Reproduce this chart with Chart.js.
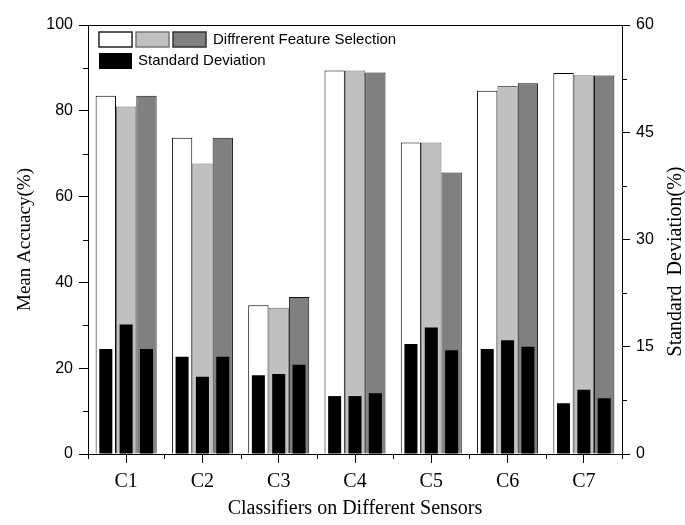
<!DOCTYPE html>
<html>
<head>
<meta charset="utf-8">
<script src="https://cdn.jsdelivr.net/npm/chart.js"></script>
<style>
  body { margin: 0; background: #fff; }
  #wrap { width: 685px; height: 525px; }
</style>
</head>
<body>
<div id="wrap"><canvas id="chart"></canvas></div>
<script>
// Values
const classifiers = ['C1', 'C2', 'C3', 'C4', 'C5', 'C6', 'C7'];
const meanSel1 = [83.5, 73.7, 34.7, 89.4, 72.6, 84.7, 88.8];
const meanSel2 = [81.0, 67.7, 34.1, 89.4, 72.6, 85.8, 88.3];
const meanSel3 = [83.5, 73.7, 36.6, 88.9, 65.6, 86.4, 88.2];
const stdSel1 = [14.7, 13.6, 11.0, 8.1, 15.4, 14.7, 7.1];
const stdSel2 = [18.1, 10.8, 11.2, 8.1, 17.7, 15.9, 9.0];
const stdSel3 = [14.7, 13.6, 12.5, 8.5, 14.5, 15.0, 7.8];
const meanMinor = [10, 30, 50, 70, 90];
const stdMinor = [7.5, 22.5, 37.5, 52.5];

const serif = "'Liberation Serif', 'Times New Roman', serif";
const sans = "'Liberation Sans', Arial, sans-serif";

// mean bar and its std bar share one slot (same stack name), on different y axes
function meanSet(values, slot, fill, border) {
    return {
        data: values, backgroundColor: fill, borderColor: border, borderWidth: 1,
        yAxisID: 'y', stack: slot, order: 2,
        categoryPercentage: 0.8, barPercentage: 1.0
    };
}
function stdSet(values, slot) {
    return {
        data: values, backgroundColor: '#000', borderWidth: 0,
        yAxisID: 'y2', stack: slot, order: 1,
        categoryPercentage: 0.8, barPercentage: 0.64
    };
}

// frame top line, minor ticks, legend and right-hand title
const extras = {
    id: 'extras',
    afterDraw(chart) {
        const { ctx, chartArea: a, scales } = chart;
        const px = v => Math.round(v) + 0.5;
        ctx.save();
        ctx.strokeStyle = '#000';
        ctx.lineWidth = 1;
        ctx.beginPath();
        ctx.moveTo(a.left, px(a.top)); ctx.lineTo(a.right, px(a.top));
        meanMinor.forEach(v => {
            const y = px(scales.y.getPixelForValue(v));
            ctx.moveTo(a.left - 5, y); ctx.lineTo(a.left, y);
        });
        stdMinor.forEach(v => {
            const y = px(scales.y2.getPixelForValue(v));
            ctx.moveTo(a.right, y); ctx.lineTo(a.right + 5, y);
        });
        const step = (a.right - a.left) / classifiers.length;
        for (let i = 0; i <= classifiers.length; i++) {
            const x = px(a.left + i * step);
            ctx.moveTo(x, a.bottom); ctx.lineTo(x, a.bottom + 5);
        }
        ctx.stroke();

        // legend
        const lx = a.left + 11, ly = a.top + 7;
        const boxes = [['#fff', '#222'], ['#c0c0c0', '#777'], ['#808080', '#333']];
        ctx.lineWidth = 1.5;
        boxes.forEach((b, i) => {
            const x = lx + i * 37;
            ctx.fillStyle = b[0]; ctx.fillRect(x, ly, 33, 15);
            ctx.strokeStyle = b[1]; ctx.strokeRect(x, ly, 33, 15);
        });
        ctx.fillStyle = '#000';
        ctx.fillRect(lx, ly + 21, 33, 16);
        ctx.font = '15px ' + sans;
        ctx.textBaseline = 'middle';
        ctx.textAlign = 'left';
        ctx.fillText('Diffrerent Feature Selection', lx + 114, ly + 8);
        ctx.fillText('Standard Deviation', lx + 39, ly + 29);

        // right axis title reads bottom to top
        ctx.translate(a.right + 54, (a.top + a.bottom) / 2 + 22);
        ctx.rotate(-Math.PI / 2);
        ctx.font = '20px ' + serif;
        ctx.textAlign = 'center';
        ctx.fillText('Standard  Deviation(%)', 0, 0);
        ctx.restore();
    }
};

const config = {
    type: 'bar',
    data: {
        labels: classifiers,
        datasets: [
            meanSet(meanSel1, 's1', '#ffffff', '#000'),
            meanSet(meanSel2, 's2', '#c0c0c0', '#6a6a6a'),
            meanSet(meanSel3, 's3', '#808080', '#111'),
            stdSet(stdSel1, 's1'),
            stdSet(stdSel2, 's2'),
            stdSet(stdSel3, 's3')
        ]
    },
    options: {
        responsive: true,
        maintainAspectRatio: false,
        animation: false,
        layout: { padding: { top: 25, left: 0, right: 0, bottom: 0 } },
        plugins: { legend: { display: false }, tooltip: { enabled: false } },
        scales: {
            x: {
                position: 'bottom',
                offset: true,
                grid: { offset: false, drawOnChartArea: false, tickLength: 9, color: '#000' },
                border: { display: true, color: '#000', width: 1 },
                ticks: { color: '#000', font: { family: serif, size: 20 }, padding: 7 },
                title: {
                    display: true, text: 'Classifiers on Different Sensors', color: '#000',
                    font: { family: serif, size: 20 }, padding: { top: 0, bottom: 4 }
                },
                afterFit: s => { s.height = 71; }
            },
            y: {
                position: 'left',
                min: 0, max: 100,
                stacked: false,
                grid: { drawOnChartArea: false, tickLength: 9, color: '#000' },
                border: { display: true, color: '#000', width: 1 },
                ticks: { stepSize: 20, color: '#000', font: { family: sans, size: 16 }, padding: 6 },
                title: {
                    display: true, text: 'Mean Accuacy(%)', color: '#000',
                    font: { family: serif, size: 19 }, padding: { top: 14, bottom: 0 }
                },
                afterFit: s => { s.width = 88; }
            },
            y2: {
                position: 'right',
                min: 0, max: 60,
                stacked: false,
                grid: { drawOnChartArea: false, tickLength: 8, color: '#000' },
                border: { display: true, color: '#000', width: 1 },
                ticks: { stepSize: 15, color: '#000', font: { family: sans, size: 16 }, padding: 6 },
                afterFit: s => { s.width = 63; }
            }
        }
    },
    plugins: [extras]
};

window.onload = function () {
    const ctx = document.getElementById('chart').getContext('2d');
    new Chart(ctx, config);
};
</script>
</body>
</html>
